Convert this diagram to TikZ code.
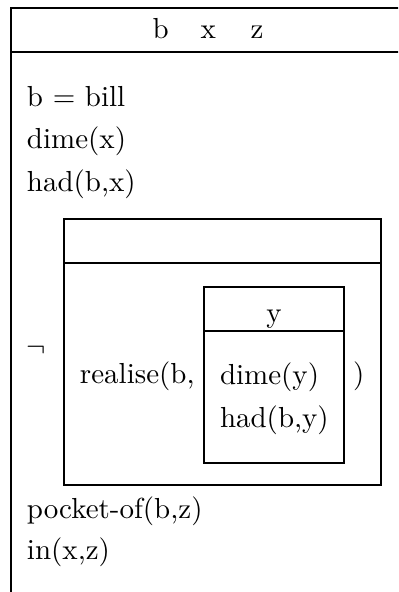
\documentclass[tikz,border=0pt]{standalone}
\begin{document}
\begin{tikzpicture}[x=0.345pt,y=-0.345pt,
  drsline/.style={line width=0.7pt,line join=miter},
  txt/.style={anchor=base west,inner sep=0pt,outer sep=0pt},
  ctxt/.style={anchor=base,inner sep=0pt,outer sep=0pt}]
\useasboundingbox (0,0) rectangle (398,592);
\clip (0,0) rectangle (398,592);
% outer DRS box (extends beyond the picture on the right and bottom)
\draw[drsline] (410,8) -- (11,8) -- (11,600);
\draw[drsline] (11,52) -- (410,52);
\node[ctxt] (hdr) at (208,38) {b\hspace{11pt}x\hspace{12pt}z};
\node[txt] (bbill) at (27,106) {b $=$ bill};
\node[txt] (dimex) at (27,148) {dime(x)};
\node[txt] (hadbx) at (27,191) {had(b,x)};
% negation
\node[txt] (neg) at (27,356) {$\neg$};
\draw[drsline] (64,219) rectangle (381,485);
\draw[drsline] (64,263) -- (381,263);
\node[txt] (realise) at (80,383) {realise(b,};
% embedded box
\draw[drsline] (204,287) rectangle (344,463);
\draw[drsline] (204,331) -- (344,331);
\node[ctxt] (yhdr) at (274,322) {y};
\node[txt] (dimey) at (220,384) {dime(y)};
\node[txt] (hadby) at (220,427) {had(b,y)};
\node[txt] (rparen) at (353,383) {)};
% remaining conditions
\node[txt] (pocket) at (27,518) {pocket-of(b,z)};
\node[txt] (inxz) at (27,559) {in(x,z)};
\end{tikzpicture}
\end{document}
